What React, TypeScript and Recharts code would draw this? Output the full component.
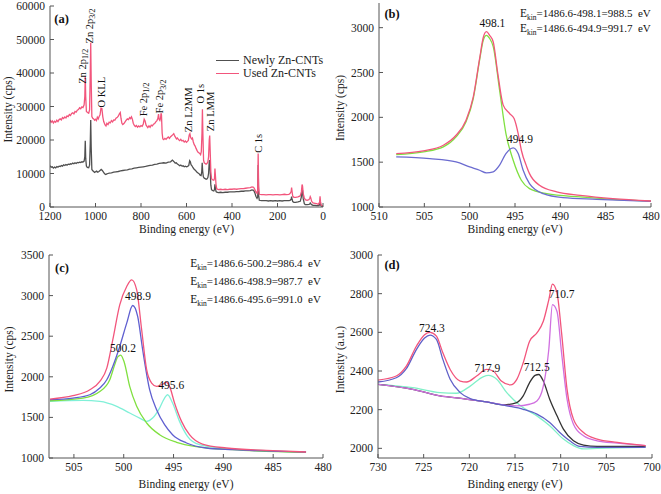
import React from "react";
import { LineChart, Line, XAxis, YAxis, ReferenceDot, Legend } from "recharts";

const FONT = "'Liberation Serif', 'Times New Roman', serif";
const FRAME = "#555";
const RED = "#F2557C";

type Pt = [number, number];

// ---- (a) survey spectra: [binding energy, counts]
const surveyXTicks = [0, 200, 400, 600, 800, 1000, 1200];
const surveyYTicks = [0, 10000, 20000, 30000, 40000, 50000, 60000];

const newlySurvey: Pt[] = [
  [1200, 12300], [1195, 11900], [1190, 12000], [1185, 11600], [1180, 11900], [1175, 11700], [1170, 12100],
  [1165, 11900], [1160, 12200], [1155, 12100], [1150, 12400], [1145, 12200], [1140, 12600], [1135, 12400],
  [1130, 12700], [1125, 12500], [1120, 12800], [1115, 12700], [1110, 12900], [1105, 12800], [1100, 13100],
  [1095, 12900], [1090, 13200], [1085, 13000], [1080, 13300], [1075, 13200], [1070, 13400], [1065, 13300],
  [1060, 13500], [1055, 13400], [1050, 13700], [1047, 15000], [1045, 19800], [1043, 14500], [1040, 12200],
  [1036, 11800], [1030, 11700], [1026, 12500], [1023, 19000], [1021, 26000], [1019, 18000], [1016, 11200],
  [1012, 10800], [1008, 10600], [1004, 10300], [1000, 10500], [995, 10700], [990, 10400], [985, 10600],
  [980, 10900], [975, 11200], [970, 10900], [965, 10400], [960, 9900], [955, 9700], [950, 9900], [945, 10000],
  [940, 10100], [930, 10200], [920, 10400], [910, 10500], [900, 10600], [890, 10800], [880, 10900],
  [870, 11000], [860, 11100], [850, 11300], [840, 11400], [830, 11600], [820, 11700], [810, 11800],
  [800, 11900], [790, 12000], [780, 12100], [770, 12300], [760, 12400], [750, 12500], [740, 12700],
  [730, 12800], [720, 13000], [710, 13100], [700, 13200], [690, 13100], [680, 13400], [670, 13500],
  [662, 14000], [656, 13600], [650, 13100], [645, 13200], [640, 12800], [635, 12600], [630, 12300],
  [625, 12500], [620, 12200], [615, 12300], [610, 12000], [605, 12200], [600, 12000], [595, 12100],
  [590, 12400], [586, 13800], [583, 13500], [580, 12600], [576, 12300], [572, 11800], [568, 11400],
  [564, 11100], [560, 10900], [556, 10500], [552, 10300], [548, 10100], [544, 9900], [540, 9500],
  [536, 9400], [533, 10500], [531, 13200], [529, 10800], [526, 9000], [522, 8600], [518, 8500],
  [514, 8300], [510, 8400], [506, 8800], [503, 10000], [500, 13500], [498, 14000], [496, 11000],
  [493, 6500], [490, 5200], [487, 5000], [484, 4900], [480, 4800], [477, 5200], [475, 6800], [473, 5600],
  [470, 4600], [467, 4400], [460, 4300], [450, 4400], [440, 4300], [430, 4400], [420, 4400], [410, 4500],
  [400, 4500], [390, 4500], [380, 4600], [370, 4600], [360, 4700], [350, 4700], [340, 4800], [330, 4800],
  [320, 4900], [312, 5100], [305, 5000], [300, 4300], [295, 3200], [290, 2600], [287, 3000], [285, 12500],
  [283, 3500], [280, 2000], [270, 1900], [260, 1900], [250, 1900], [240, 1800], [230, 1900], [220, 1800],
  [210, 1900], [200, 1800], [190, 1900], [180, 1800], [170, 1900], [160, 1900], [150, 1900], [145, 2000],
  [140, 2300], [138, 3100], [136, 2300], [133, 1600], [128, 1400], [120, 1400], [110, 1500], [100, 1700],
  [95, 3000], [92, 5400], [90, 5000], [87, 2500], [82, 1000], [78, 700], [70, 700], [62, 800], [58, 900],
  [56, 1200], [54, 1000], [50, 700], [44, 500], [35, 500], [28, 400], [20, 400], [15, 600], [13, 1400],
  [11, 700], [8, 300], [3, 200], [0, 200],
];

const usedSurvey: Pt[] = [
  [1200, 26000], [1195, 25300], [1190, 25700], [1185, 25100], [1180, 25600], [1175, 25300], [1170, 25900],
  [1165, 25500], [1160, 26100], [1155, 26300], [1150, 26000], [1145, 26700], [1140, 26400], [1135, 26900],
  [1130, 26600], [1125, 27200], [1120, 27000], [1115, 27600], [1110, 27300], [1105, 27900], [1100, 28100],
  [1095, 27800], [1090, 28500], [1085, 28300], [1080, 28900], [1075, 29100], [1070, 29600], [1065, 29300],
  [1060, 29900], [1055, 29700], [1050, 30500], [1047, 33000], [1045, 39000], [1043, 33000], [1040, 28500],
  [1035, 28200], [1030, 28000], [1026, 29000], [1023, 40000], [1021, 49000], [1019, 38000], [1016, 27000],
  [1012, 26500], [1008, 26300], [1004, 25900], [1000, 26200], [996, 25800], [992, 26800], [988, 26300],
  [984, 27000], [980, 27500], [976, 29500], [972, 29400], [968, 27000], [964, 25500], [958, 24500],
  [954, 24200], [950, 25000], [945, 24600], [940, 25300], [935, 25100], [930, 25800], [925, 25400],
  [920, 26000], [915, 25900], [910, 26500], [905, 26700], [900, 27100], [895, 27800], [891, 28200],
  [888, 26500], [884, 25000], [880, 24600], [875, 24900], [870, 25400], [865, 25900], [860, 26300],
  [855, 26100], [850, 26700], [846, 26400], [842, 26900], [838, 26200], [834, 25000], [830, 24400],
  [825, 24000], [820, 24300], [815, 23800], [810, 24200], [805, 23900], [800, 24300], [795, 24100],
  [790, 24800], [786, 26200], [782, 25700], [778, 24500], [774, 24100], [770, 23700], [765, 24200],
  [760, 23800], [755, 24400], [750, 24200], [745, 24700], [740, 24900], [735, 25400], [730, 25800],
  [726, 26400], [723, 27700], [720, 26100], [717, 25800], [714, 26500], [712, 28000], [710, 27500],
  [707, 22000], [704, 20300], [700, 20100], [695, 20500], [690, 20200], [685, 20600], [680, 20900],
  [675, 20500], [670, 21000], [665, 21300], [660, 21600], [656, 21900], [652, 21200], [648, 20800],
  [644, 20300], [640, 20600], [635, 20100], [630, 19800], [625, 20200], [620, 19700], [615, 19900],
  [610, 19400], [605, 19700], [600, 19300], [596, 19600], [592, 19900], [588, 21500], [585, 21900],
  [582, 20800], [578, 20300], [574, 20600], [570, 19400], [566, 18600], [562, 18200], [558, 17500],
  [554, 16900], [550, 16400], [546, 16200], [542, 16000], [538, 15600], [535, 16500], [532, 22000],
  [530, 29200], [528, 22000], [525, 14000], [522, 13200], [518, 13000], [514, 12800], [510, 13000],
  [506, 13500], [503, 15000], [500, 20000], [498, 21300], [496, 17000], [493, 10500], [490, 8500],
  [487, 8200], [484, 8100], [480, 8000], [477, 8500], [475, 11500], [473, 9500], [470, 6500], [467, 5400],
  [460, 5200], [450, 5300], [440, 5200], [430, 5300], [420, 5200], [410, 5300], [400, 5300], [390, 5400],
  [380, 5300], [370, 5400], [360, 5500], [350, 5500], [340, 5600], [330, 5700], [320, 5800], [312, 6000],
  [305, 5900], [300, 5300], [295, 4500], [290, 4100], [287, 5000], [285, 16000], [283, 6000], [280, 3800],
  [270, 3700], [260, 3700], [250, 3600], [240, 3700], [230, 3700], [220, 3600], [210, 3700], [200, 3700],
  [190, 3600], [180, 3700], [170, 3800], [160, 3700], [150, 3800], [145, 4000], [140, 4600], [138, 5800],
  [136, 4600], [133, 3200], [128, 2900], [120, 2900], [110, 3000], [100, 3300], [95, 4500], [92, 6700],
  [90, 6300], [87, 4000], [82, 2700], [78, 2200], [70, 2000], [62, 2200], [58, 2600], [56, 3100],
  [54, 2800], [50, 1700], [44, 1200], [35, 1100], [28, 1000], [20, 800], [15, 1500], [13, 3200],
  [11, 1600], [8, 600], [3, 400], [0, 300],
];

// ---- (b) Zn LMM of one sample
const bXTicks = [480, 485, 490, 495, 500, 505, 510];
const bYTicks = [1000, 1500, 2000, 2500, 3000];
const bEnvelope: Pt[] = [
  [508.1, 1596], [505.1, 1626], [502.9, 1689], [501.5, 1800], [500.4, 1968], [499.6, 2229], [498.9, 2657],
  [498.5, 2890], [498.15, 2955], [497.8, 2915], [497.4, 2840], [496.9, 2490], [496.3, 2136], [495.6, 2043],
  [495.1, 1987], [494.65, 1819], [494.3, 1633], [493.7, 1447], [493.4, 1372], [492.3, 1242], [490.4, 1168],
  [487.8, 1130], [484.2, 1093], [480, 1067],
];
const bPeak1: Pt[] = [
  [508.1, 1585], [505.1, 1615], [502.9, 1670], [501.5, 1782], [500.4, 1950], [499.6, 2210], [498.9, 2640],
  [498.5, 2860], [498.15, 2915], [497.8, 2880], [497.4, 2788], [496.7, 2303], [496.0, 1819], [495.2, 1521],
  [494.3, 1298], [493.4, 1205], [491.5, 1149], [487.8, 1112], [484.2, 1086], [480, 1067],
];
const bPeak2: Pt[] = [
  [508.1, 1559], [504.4, 1540], [501.5, 1503], [500.0, 1447], [498.9, 1410], [498.15, 1380], [497.4, 1391],
  [496.7, 1466], [496.0, 1596], [495.2, 1659], [494.65, 1596], [494.1, 1410], [493.4, 1261], [491.9, 1149],
  [489.7, 1104], [486.0, 1086], [480, 1063],
];

// ---- (c) Zn LMM of the other sample
const cXTicks = [480, 485, 490, 495, 500, 505];
const cYTicks = [1000, 1500, 2000, 2500, 3000, 3500];
const cEnvelope: Pt[] = [
  [507.4, 1726], [505.1, 1767], [503.4, 1840], [502.4, 1943], [501.7, 2107], [501.1, 2455], [500.4, 2886],
  [499.7, 3112], [499.2, 3194], [498.7, 3071], [498.2, 2579], [497.7, 2087], [497.2, 1923], [496.7, 1882],
  [496.2, 1902], [495.7, 1931], [495.4, 1882], [494.9, 1677], [494.2, 1451], [493.4, 1287], [492.1, 1172],
  [489.7, 1123], [485.7, 1094], [481.7, 1074],
];
const cPeak989: Pt[] = [
  [507.4, 1718], [505.1, 1738], [503.4, 1779], [502.4, 1861], [501.7, 1964], [501.1, 2128], [500.4, 2374],
  [499.7, 2661], [499.1, 2878], [498.6, 2743], [498.1, 2333], [497.4, 1841], [496.7, 1595], [495.9, 1410],
  [495.1, 1287], [493.7, 1185], [491.7, 1123], [489.1, 1102], [481.7, 1074],
];
const cPeak1002: Pt[] = [
  [507.4, 1705], [504.1, 1738], [502.4, 1820], [501.4, 1964], [500.9, 2150], [500.6, 2245], [500.3, 2268],
  [499.95, 2180], [499.4, 1882], [498.7, 1636], [497.7, 1431], [496.4, 1287], [494.7, 1193], [492.4, 1135],
  [489.1, 1102], [481.7, 1070],
];
const cPeak956: Pt[] = [
  [507.4, 1697], [504.1, 1709], [502.4, 1697], [500.7, 1636], [499.4, 1554], [498.4, 1492], [497.7, 1451],
  [497.1, 1492], [496.4, 1615], [495.9, 1738], [495.6, 1779], [495.1, 1677], [494.4, 1451], [493.6, 1267],
  [492.4, 1164], [489.7, 1115], [485.7, 1090], [481.7, 1070],
];

// ---- (d) Fe 2p
const dXTicks = [700, 705, 710, 715, 720, 725, 730];
const dYTicks = [2000, 2200, 2400, 2600, 2800, 3000];
const dEnvelope: Pt[] = [
  [730, 2353], [728, 2374], [726.9, 2425], [725.8, 2528], [724.9, 2588], [724.3, 2600], [723.6, 2580],
  [722.9, 2494], [722.1, 2408], [721, 2348], [720.3, 2343], [719.2, 2374], [718.1, 2408], [717.4, 2400],
  [716.5, 2348], [715.5, 2328], [714.8, 2357], [714.1, 2443], [713.4, 2554], [712.6, 2597], [711.9, 2657],
  [711.3, 2768], [710.9, 2849], [710.4, 2803], [709.9, 2597], [709.3, 2305], [708.6, 2151], [707.5, 2082],
  [706, 2048], [703.8, 2031], [700.7, 2014],
];
const dPeak7243: Pt[] = [
  [730, 2343], [728, 2365], [726.9, 2412], [725.8, 2511], [724.9, 2571], [724.3, 2586], [723.6, 2563],
  [722.9, 2460], [722.1, 2357], [721, 2288], [719.9, 2257], [718.1, 2240], [715.9, 2220], [714.1, 2202],
  [712.6, 2177], [711.2, 2134], [710.1, 2082], [709, 2039], [707.9, 2010], [706, 2005], [700.7, 2005],
];
const dPeak7179: Pt[] = [
  [730, 2331], [726.2, 2314], [723.2, 2288], [721.4, 2285], [719.9, 2322], [718.5, 2370], [717.9, 2377],
  [717, 2357], [715.9, 2288], [714.4, 2220], [712.6, 2168], [711.2, 2117], [709.7, 2048], [708.6, 2014],
  [707.5, 1997], [706, 2000], [700.7, 2005],
];
const dPeak7125: Pt[] = [
  [730, 2331], [726.2, 2305], [723.2, 2271], [720.7, 2257], [718.1, 2240], [716.3, 2225], [714.8, 2237],
  [714.1, 2271], [713.4, 2340], [712.8, 2377], [712.4, 2382], [711.9, 2348], [711.2, 2254], [710.4, 2168],
  [709.7, 2099], [708.6, 2039], [707.5, 2017], [706, 2010], [700.7, 2010],
];
const dPeak7107: Pt[] = [
  [730, 2331], [726.2, 2305], [723.2, 2271], [720.7, 2257], [718.1, 2240], [716.3, 2225], [714.8, 2220],
  [713.4, 2228], [712.6, 2245], [711.9, 2322], [711.3, 2511], [710.9, 2743], [710.4, 2708], [709.9, 2494],
  [709.3, 2254], [708.6, 2125], [707.5, 2065], [706, 2039], [703.8, 2027], [700.7, 2014],
];

type Note = {
  x: number;
  y: number;
  text: string;
  sub?: string;
  rest?: string;
  rotate?: boolean;
  anchor?: "start" | "middle";
  bold?: boolean;
};

const aNotes: Note[] = [
  { x: 1181, y: 55000, text: "(a)", bold: true, anchor: "start" },
  { x: 1042, y: 36760, text: "Zn 2p", sub: "1/2", rotate: true },
  { x: 1011, y: 48820, text: "Zn 2p", sub: "3/2", rotate: true },
  { x: 958, y: 29700, text: "O KLL", rotate: true },
  { x: 774, y: 27060, text: "Fe 2p", sub: "1/2", rotate: true },
  { x: 703, y: 27940, text: "Fe 2p", sub: "3/2", rotate: true },
  { x: 576, y: 22350, text: "Zn L2MM", rotate: true },
  { x: 523, y: 30880, text: "O 1s", rotate: true },
  { x: 479, y: 22650, text: "Zn LMM", rotate: true },
  { x: 268, y: 16180, text: "C 1s", rotate: true },
];
const bNotes: Note[] = [
  { x: 509.4, y: 3104, text: "(b)", bold: true, anchor: "start" },
  { x: 497.5, y: 3007, text: "498.1" },
  { x: 494.45, y: 1717, text: "494.9" },
  { x: 494.45, y: 3115, text: "E", sub: "kin", rest: "=1486.6-498.1=988.5  eV", anchor: "start" },
  { x: 494.45, y: 2948, text: "E", sub: "kin", rest: "=1486.6-494.9=991.7  eV", anchor: "start" },
];
const cNotes: Note[] = [
  { x: 506.9, y: 3287, text: "(c)", bold: true, anchor: "start" },
  { x: 498.57, y: 2946, text: "498.9" },
  { x: 500.07, y: 2309, text: "500.2" },
  { x: 495.23, y: 1849, text: "495.6" },
  { x: 493.33, y: 3348, text: "E", sub: "kin", rest: "=1486.6-500.2=986.4  eV", anchor: "start" },
  { x: 493.33, y: 3130, text: "E", sub: "kin", rest: "=1486.6-498.9=987.7  eV", anchor: "start" },
  { x: 493.33, y: 2905, text: "E", sub: "kin", rest: "=1486.6-495.6=991.0  eV", anchor: "start" },
];
const dNotes: Note[] = [
  { x: 729.3, y: 2926, text: "(d)", bold: true, anchor: "start" },
  { x: 724.1, y: 2603, text: "724.3" },
  { x: 718.03, y: 2396, text: "717.9" },
  { x: 712.62, y: 2402, text: "712.5" },
  { x: 709.89, y: 2776, text: "710.7" },
];

type Series = { name: string; color: string; points: Pt[] };

const toRows = (pts: Pt[]) => pts.map(([e, v]) => ({ e, v }));

// eslint-disable-next-line @typescript-eslint/no-explicit-any
function NoteLabel({ viewBox, note }: any) {
  const x = viewBox.x + (viewBox.width || 0) / 2;
  const y = viewBox.y + (viewBox.height || 0) / 2;
  const size = note.rotate ? 10.5 : note.bold ? 12.5 : 11.5;
  const subSize = note.rotate ? 8 : 7.5;
  return (
    <text
      x={x}
      y={y}
      transform={note.rotate ? `rotate(-90 ${x} ${y})` : undefined}
      textAnchor={note.anchor ?? (note.rotate ? "start" : "middle")}
      fontFamily={FONT}
      fontSize={size}
      fontWeight={note.bold ? "bold" : "normal"}
      fill="#111"
      style={{ whiteSpace: "pre" }}
    >
      {note.text}
      {note.sub && (
        <tspan fontSize={subSize} dy={2.5}>
          {note.sub}
        </tspan>
      )}
      {note.rest && <tspan dy={-2.5} fontSize={11}>{note.rest}</tspan>}
    </text>
  );
}

interface PanelProps {
  left: number;
  top: number;
  width: number;
  height: number;
  marginTop: number;
  marginRight: number;
  yWidth: number;
  xHeight: number;
  xDomain: [number, number];
  xTicks: number[];
  yDomain: [number, number];
  yTicks: number[];
  yTitle: string;
  xTitleOffset: number;
  yTitleX: number;
  curve: "linear" | "monotone";
  series: Series[];
  notes: Note[];
  legend?: boolean;
}

function Panel(p: PanelProps) {
  const tick = { fontSize: 11.5, fill: "#222", fontFamily: FONT };
  return (
    <div style={{ position: "absolute", left: p.left, top: p.top }}>
      <LineChart
        width={p.width}
        height={p.height}
        margin={{ top: p.marginTop, right: p.marginRight, bottom: 0, left: 0 }}
      >
        <XAxis
          dataKey="e"
          type="number"
          domain={p.xDomain}
          ticks={p.xTicks}
          reversed
          allowDataOverflow
          interval={0}
          height={p.xHeight}
          tick={tick}
          tickSize={-4}
          tickMargin={9}
          tickLine={{ stroke: FRAME }}
          axisLine={{ stroke: FRAME }}
          label={{
            value: "Binding energy (eV)",
            position: "insideBottom",
            offset: p.xTitleOffset,
            style: { fontFamily: FONT, fontSize: 11.5, fill: "#222" },
          }}
        />
        <XAxis
          xAxisId="top"
          orientation="top"
          type="number"
          domain={p.xDomain}
          reversed
          height={0}
          tick={false}
          tickLine={false}
          axisLine={{ stroke: FRAME }}
        />
        <YAxis
          type="number"
          domain={p.yDomain}
          ticks={p.yTicks}
          allowDataOverflow
          interval={0}
          width={p.yWidth}
          tick={tick}
          tickSize={-4}
          tickMargin={9}
          tickLine={{ stroke: FRAME }}
          axisLine={{ stroke: FRAME }}
          // eslint-disable-next-line @typescript-eslint/no-explicit-any
          label={(lp: any) => {
            const vb = lp.viewBox;
            const cx = vb.x + p.yTitleX;
            const cy = vb.y + vb.height / 2 + 3;
            return (
              <text
                x={cx}
                y={cy}
                transform={`rotate(-90 ${cx} ${cy})`}
                textAnchor="middle"
                fontFamily={FONT}
                fontSize={11.5}
                fill="#222"
              >
                {p.yTitle}
              </text>
            );
          }}
        />
        <YAxis
          yAxisId="right"
          orientation="right"
          type="number"
          domain={p.yDomain}
          width={0}
          tick={false}
          tickLine={false}
          axisLine={{ stroke: FRAME }}
        />
        {p.series.map((s) => (
          <Line
            key={s.name}
            data={toRows(s.points)}
            dataKey="v"
            name={s.name}
            type={p.curve}
            stroke={s.color}
            strokeWidth={1.3}
            dot={false}
            activeDot={false}
            isAnimationActive={false}
          />
        ))}
        {p.notes.map((n, i) => (
          <ReferenceDot
            key={i}
            x={n.x}
            y={n.y}
            r={0}
            fill="none"
            stroke="none"
            ifOverflow="visible"
            // eslint-disable-next-line @typescript-eslint/no-explicit-any
            label={(lp: any) => <NoteLabel viewBox={lp.viewBox} note={n} />}
          />
        ))}
        {p.legend && (
          <Legend
            layout="vertical"
            align="center"
            verticalAlign="middle"
            wrapperStyle={{ left: 216, top: 54, width: 112 }}
            // eslint-disable-next-line @typescript-eslint/no-explicit-any
            content={({ payload }: any) => (
              <div style={{ fontFamily: FONT, fontSize: 12, lineHeight: "13px", color: "#222" }}>
                {/* eslint-disable-next-line @typescript-eslint/no-explicit-any */}
                {payload?.map((item: any) => (
                  <div key={item.value} style={{ display: "flex", alignItems: "center" }}>
                    <span
                      style={{
                        display: "inline-block",
                        width: 23,
                        borderTop: `1.5px solid ${item.color}`,
                        marginRight: 4,
                      }}
                    />
                    <span>{item.value}</span>
                  </div>
                ))}
              </div>
            )}
          />
        )}
      </LineChart>
    </div>
  );
}

export default function App() {
  return (
    <div style={{ position: "absolute", left: 0, top: 0, width: 661, height: 494, background: "#fff" }}>
      <Panel
        left={0}
        top={240}
        width={340}
        height={254}
        marginTop={15}
        marginRight={17}
        yWidth={49}
        xHeight={36}
        xDomain={[480, 507.5]}
        xTicks={cXTicks}
        yDomain={[1000, 3500]}
        yTicks={cYTicks}
        yTitle="Intensity (cps)"
        xTitleOffset={6}
        yTitleX={13}
        curve="monotone"
        series={[
          { name: "fit 495.6", color: "#80F0D8", points: cPeak956 },
          { name: "fit 500.2", color: "#80E040", points: cPeak1002 },
          { name: "fit 498.9", color: "#5F5FD0", points: cPeak989 },
          { name: "envelope", color: RED, points: cEnvelope },
        ]}
        notes={cNotes}
      />
      <Panel
        left={0}
        top={0}
        width={336}
        height={240}
        marginTop={6}
        marginRight={13}
        yWidth={50}
        xHeight={33}
        xDomain={[0, 1200]}
        xTicks={surveyXTicks}
        yDomain={[0, 60000]}
        yTicks={surveyYTicks}
        yTitle="Intensity (cps)"
        xTitleOffset={7}
        yTitleX={12}
        curve="linear"
        series={[
          { name: "Newly Zn-CNTs", color: "#505050", points: newlySurvey },
          { name: "Used Zn-CNTs", color: RED, points: usedSurvey },
        ]}
        notes={aNotes}
        legend
      />
      <Panel
        left={330}
        top={0}
        width={331}
        height={240}
        marginTop={3}
        marginRight={10}
        yWidth={49}
        xHeight={33}
        xDomain={[480, 510]}
        xTicks={bXTicks}
        yDomain={[1000, 3275]}
        yTicks={bYTicks}
        yTitle="Intensity (cps)"
        xTitleOffset={7}
        yTitleX={14}
        curve="monotone"
        series={[
          { name: "fit 498.1", color: "#7FE040", points: bPeak1 },
          { name: "fit 494.9", color: "#6B6BD0", points: bPeak2 },
          { name: "envelope", color: RED, points: bEnvelope },
        ]}
        notes={bNotes}
      />
      <Panel
        left={330}
        top={240}
        width={331}
        height={254}
        marginTop={15}
        marginRight={9}
        yWidth={48}
        xHeight={36}
        xDomain={[700, 730]}
        xTicks={dXTicks}
        yDomain={[1950, 3000]}
        yTicks={dYTicks}
        yTitle="Intensity (a.u.)"
        xTitleOffset={6}
        yTitleX={14}
        curve="monotone"
        series={[
          { name: "fit 717.9", color: "#80F0C8", points: dPeak7179 },
          { name: "fit 712.5", color: "#333333", points: dPeak7125 },
          { name: "fit 710.7", color: "#D070E0", points: dPeak7107 },
          { name: "fit 724.3", color: "#6060C8", points: dPeak7243 },
          { name: "envelope", color: RED, points: dEnvelope },
        ]}
        notes={dNotes}
      />
    </div>
  );
}
